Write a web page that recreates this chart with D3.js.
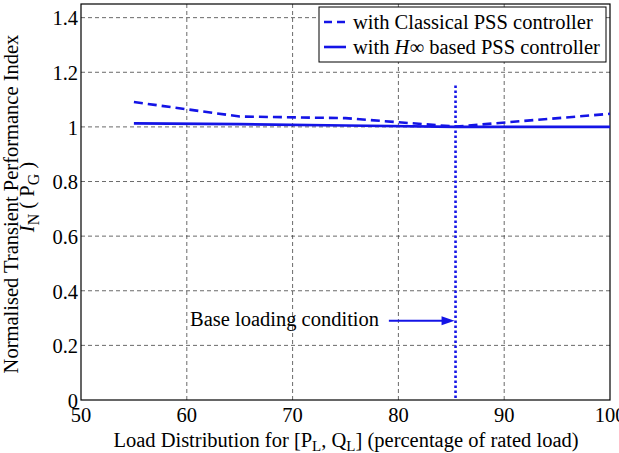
<!DOCTYPE html>
<html><head><meta charset="utf-8">
<script src="https://cdn.jsdelivr.net/npm/d3@7"></script>
<style>body{margin:0;background:#fff}svg{display:block}text{font-family:"Liberation Serif","Times New Roman",serif;fill:#000}</style>
</head><body><svg id="c" width="619" height="453"></svg>
<script>
const loadX = [55, 65, 75, 85.4, 100];
const classicalPSS = [1.091, 1.038, 1.032, 1.001, 1.048];
const hinfPSS = [1.013, 1.010, 1.005, 1.000, 1.000];
const xTicks = [50, 60, 70, 80, 90, 100];
const yTicks = [0, 0.2, 0.4, 0.6, 0.8, 1, 1.2, 1.4];
const baseLoad = 85.4, baseTop = 1.152, arrowY = 0.29, arrowFrom = 79.1;

const svg = d3.select("#c");
const L = 81, R = 610, T = 4, B = 400;
const FS = 20.5;
const x = d3.scaleLinear().domain([50, 100]).range([L, R]);
const y = d3.scaleLinear().domain([0, 1.45]).range([B, T]);
const blue = "#1414e6";

// grid
svg.append("g").selectAll("line").data(xTicks.filter(d => d > 50 && d < 100)).join("line")
  .attr("x1", d => x(d)).attr("x2", d => x(d)).attr("y1", T).attr("y2", B)
  .attr("stroke", "#444").attr("stroke-width", 0.8).attr("stroke-dasharray", "4,3");
svg.append("g").selectAll("line").data(yTicks.filter(d => d > 0)).join("line")
  .attr("x1", L).attr("x2", R).attr("y1", d => y(d)).attr("y2", d => y(d))
  .attr("stroke", "#444").attr("stroke-width", 0.8).attr("stroke-dasharray", "4,3");

// frame
svg.append("rect").attr("x", L).attr("y", T).attr("width", R - L).attr("height", B - T)
  .attr("fill", "none").attr("stroke", "#000").attr("stroke-width", 1.2);

// tick labels
svg.append("g").selectAll("text").data(xTicks).join("text")
  .attr("x", d => x(d)).attr("y", 422).attr("text-anchor", "middle").attr("font-size", FS).text(d => d);
svg.append("g").selectAll("text").data(yTicks).join("text")
  .attr("x", 78).attr("y", d => y(d)).attr("dy", "0.38em").attr("text-anchor", "end").attr("font-size", FS)
  .text(d => d3.format("~g")(d));

// lines
const line = d3.line().x(d => x(d[0])).y(d => y(d[1]));
svg.append("path").datum(loadX.map((d, i) => [d, classicalPSS[i]])).attr("d", line)
  .attr("fill", "none").attr("stroke", blue).attr("stroke-width", 2.6).attr("stroke-dasharray", "9,5");
svg.append("path").datum(loadX.map((d, i) => [d, hinfPSS[i]])).attr("d", line)
  .attr("fill", "none").attr("stroke", blue).attr("stroke-width", 2.6);

// base loading vertical dotted line
svg.append("line").attr("x1", x(baseLoad)).attr("x2", x(baseLoad)).attr("y1", y(baseTop)).attr("y2", y(0))
  .attr("stroke", blue).attr("stroke-width", 2.6).attr("stroke-dasharray", "2.5,2.5");

// arrow
svg.append("line").attr("x1", x(arrowFrom)).attr("x2", x(baseLoad) - 10).attr("y1", y(arrowY)).attr("y2", y(arrowY))
  .attr("stroke", blue).attr("stroke-width", 2);
svg.append("path").attr("d", `M${x(baseLoad)-1},${y(arrowY)}l-13,-4.5l0,9z`).attr("fill", blue);
svg.append("text").attr("x", 190).attr("y", 326).attr("font-size", FS).text("Base loading condition");

// legend
const lg = svg.append("g");
lg.append("rect").attr("x", 319).attr("y", 7).attr("width", 287).attr("height", 55)
  .attr("fill", "#fff").attr("stroke", "#000").attr("stroke-width", 1);
lg.append("line").attr("x1", 324).attr("x2", 346).attr("y1", 22).attr("y2", 22)
  .attr("stroke", blue).attr("stroke-width", 2.6).attr("stroke-dasharray", "8,5");
lg.append("line").attr("x1", 324).attr("x2", 346).attr("y1", 47).attr("y2", 47)
  .attr("stroke", blue).attr("stroke-width", 2.6);
lg.append("text").attr("x", 353).attr("y", 28.5).attr("font-size", FS).text("with Classical PSS controller");
const t2 = lg.append("text").attr("x", 353).attr("y", 53.5).attr("font-size", FS);
t2.append("tspan").text("with ");
t2.append("tspan").attr("font-style", "italic").text("H");
t2.append("tspan").text("\u221E based PSS controller");

// x label
const xl = svg.append("text").attr("x", 346).attr("y", 447).attr("text-anchor", "middle").attr("font-size", FS);
xl.append("tspan").text("Load Distribution for [P");
xl.append("tspan").attr("dy", 4).attr("font-size", 15).text("L");
xl.append("tspan").attr("dy", -4).text(", Q");
xl.append("tspan").attr("dy", 4).attr("font-size", 15).text("L");
xl.append("tspan").attr("dy", -4).text("] (percentage of rated load)");

// y label
svg.append("text").attr("transform", "translate(18,204) rotate(-90)").attr("text-anchor", "middle")
  .attr("font-size", FS).text("Normalised Transient Performance Index");
const yl = svg.append("text").attr("transform", "translate(34,197) rotate(-90)").attr("text-anchor", "middle").attr("font-size", FS);
yl.append("tspan").attr("font-style", "italic").text("I");
yl.append("tspan").attr("dy", 5).attr("font-size", 16).text("N");
yl.append("tspan").attr("dy", -5).text(" ( P");
yl.append("tspan").attr("dy", 5).attr("font-size", 16).text("G");
yl.append("tspan").attr("dy", -5).text(" )");
</script></body></html>
